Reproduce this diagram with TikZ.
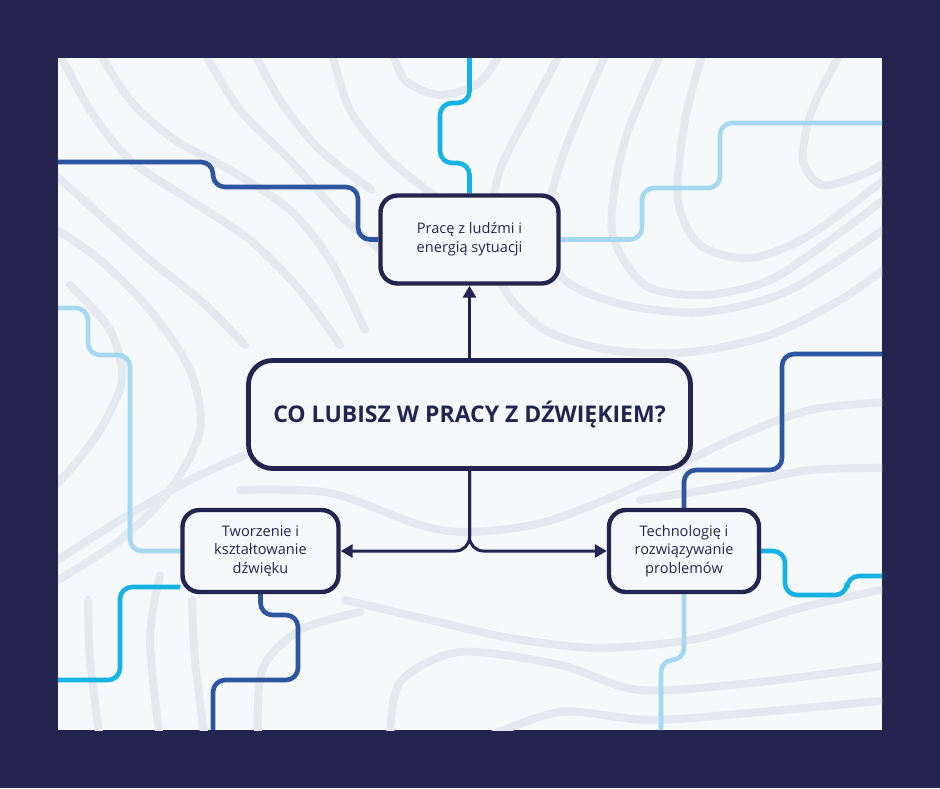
\documentclass[tikz,border=0pt]{standalone}
\usepackage{fontspec}
\setmainfont{Open Sans}
\usepackage{tikz}
\usetikzlibrary{positioning,arrows.meta,backgrounds}
\definecolor{navy}{RGB}{35,37,80}
\definecolor{panel}{RGB}{245,249,252}
\definecolor{topo}{RGB}{228,233,239}
\definecolor{deepblue}{RGB}{46,85,160}
\definecolor{skycyan}{RGB}{22,178,228}
\definecolor{paleblue}{RGB}{166,216,242}
\tikzset{
  topic/.style={draw=navy,fill=panel,line width=2.4pt,rounded corners=12pt,minimum width=221pt,minimum height=54pt,font=\fontsize{11.5}{14}\selectfont\bfseries,text=navy},
  idea/.style={draw=navy,fill=panel,line width=2.2pt,rounded corners=8.5pt,minimum height=41pt,align=center,font=\fontsize{7.3}{9.4}\selectfont,text=navy},
  conn/.style={navy,line width=1.5pt,-{Triangle[length=6pt,width=6.5pt]}},
  wire/.style={line width=2.3pt,rounded corners=6pt},
  contour/.style={topo,line width=4pt,line cap=round}
}
\begin{document}
\begin{tikzpicture}[x=0.5pt,y=-0.5pt]
  \useasboundingbox (0,0) rectangle (940,788);
  % mind map
  \node[topic] (ctr) at (469.5,414.5) {CO LUBISZ W PRACY Z DŹWIĘKIEM?};
  \node[idea,minimum width=89pt,minimum height=44pt] (pw) at (469.5,239.5) {Pracę z ludźmi i\\energią sytuacji};
  \node[idea,minimum width=78pt] (tw) at (260.5,551) {Tworzenie i\\kształtowanie\\dźwięku};
  \node[idea,minimum width=75pt] (tech) at (684,551) {Technologię i\\rozwiązywanie\\problemów};
  \draw[conn] (ctr.north) -- (pw.south);
  \draw[conn,rounded corners=7pt] (ctr.south) |- (tw.east);
  \draw[conn,rounded corners=7pt] (ctr.south) |- (tech.west);
  \begin{scope}[on background layer]
    \fill[navy] (0,0) rectangle (940,788);
    \fill[panel] (58,58) rectangle (882,730);
    \begin{scope}
      \clip (58,58) rectangle (882,730);
      % contour lines
      \draw[contour] plot[smooth] coordinates {(55,45) (90,110) (130,160) (190,200) (250,240) (300,290) (340,345)};
      \draw[contour] plot[smooth] coordinates {(95,45) (130,100) (175,140) (230,170) (290,210) (330,260) (365,330)};
      \draw[contour] plot[smooth] coordinates {(200,45) (240,110) (290,160) (340,215) (380,250)};
      \draw[contour] plot[smooth] coordinates {(250,45) (280,100) (320,150) (372,190)};
      \draw[contour] plot[smooth] coordinates {(330,45) (350,110) (390,160) (440,200)};
      \draw[contour] plot[smooth] coordinates {(390,45) (405,80) (440,95) (480,82) (505,45)};
      \draw[contour] plot[smooth] coordinates {(50,170) (100,215) (150,260) (200,300) (245,345)};
      \draw[contour] plot[smooth] coordinates {(50,225) (100,260) (150,310) (190,370) (200,430) (170,490) (120,540) (50,585)};
      \draw[contour] plot[smooth] coordinates {(70,285) (110,330) (122,380) (100,430) (70,470) (50,490)};
      \draw[contour] plot[smooth] coordinates {(565,45) (530,110) (500,170) (490,230) (505,290) (545,330) (610,350) (690,352) (770,335) (840,300) (890,265)};
      \draw[contour] plot[smooth] coordinates {(610,45) (565,150) (545,230) (565,280) (625,305) (705,312) (790,290) (890,225)};
      \draw[contour] plot[smooth] coordinates {(665,45) (625,140) (612,230) (645,285) (705,295) (770,280) (830,240) (890,195)};
      \draw[contour] plot[smooth] coordinates {(705,45) (685,120) (678,200) (700,245) (750,258) (810,235) (890,175)};
      \draw[contour] plot[smooth] coordinates {(845,45) (812,110) (803,160) (822,185) (862,175) (890,160)};
      \draw[contour] plot[smooth] coordinates {(240,490) (330,493) (420,525) (470,532) (545,522) (640,485) (730,440) (810,410) (890,402)};
      \draw[contour] plot[smooth] coordinates {(50,565) (120,520) (190,480) (245,455)};
      \draw[contour] plot[smooth] coordinates {(640,500) (730,486) (810,470) (890,468)};
      \draw[contour] plot[smooth] coordinates {(345,600) (430,620) (510,638) (600,648) (700,638) (800,608) (890,588)};
      \draw[contour] plot[smooth] coordinates {(390,740) (400,682) (460,652) (560,665) (640,690) (760,682) (890,665)};
      \draw[contour] plot[smooth] coordinates {(480,740) (560,712) (650,720) (760,712) (890,700)};
      \draw[contour] plot[smooth] coordinates {(88,600) (90,660) (100,740)};
      \draw[contour] plot[smooth] coordinates {(160,575) (150,640) (160,740)};
      \draw[contour] plot[smooth] coordinates {(192,600) (195,660) (205,740)};
      \draw[contour] plot[smooth] coordinates {(258,740) (262,670) (300,630) (360,612)};
      % coloured wires
      \draw[wire,deepblue] (58,162) -- (213,162) -- (213,187) -- (358,187) -- (358,239.5) -- (pw.west);
      \draw[wire,skycyan] (469.5,58) -- (469.5,103) -- (440,103) -- (440,163) -- (469.5,163) -- (pw.north);
      \draw[wire,paleblue] (pw.east) -- (642,239.5) -- (642,188) -- (720,188) -- (720,123) -- (882,123);
      \draw[wire,paleblue] (58,308) -- (88,308) -- (88,355) -- (130,355) -- (130,551) -- (tw.west);
      \draw[wire,skycyan] (tw.west |- 0,587) -- (120,587) -- (120,680) -- (58,680);
      \draw[wire,deepblue] (tw.south) -- (260.5,615) -- (298,615) -- (298,680) -- (213,680) -- (213,730);
      \draw[wire,deepblue] (882,354) -- (782,354) -- (782,470) -- (684,470) -- (tech.north);
      \draw[wire,skycyan] (tech.east) -- (785,551) -- (785,595) -- (847,595) -- (847,576) -- (882,576);
      \draw[wire,paleblue] (tech.south) -- (684,660) -- (661,660) -- (661,730);
    \end{scope}
  \end{scope}
\end{tikzpicture}
\end{document}
